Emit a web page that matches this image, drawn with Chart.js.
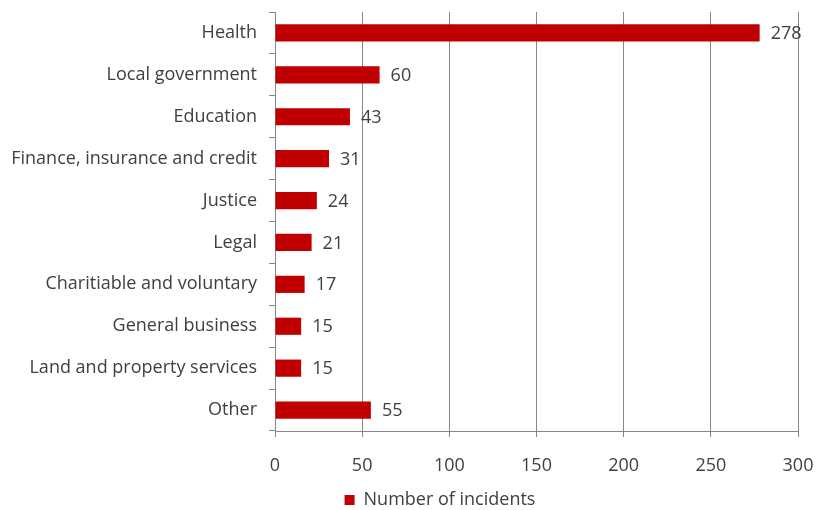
<!DOCTYPE html>
<html>
<head>
<meta charset="utf-8">
<script src="https://cdn.jsdelivr.net/npm/chart.js@4"></script>
<style>
  body { margin: 0; background: #fff; }
  #wrap { width: 816px; height: 510px; }
</style>
</head>
<body>
<div id="wrap"><canvas id="incidentChart"></canvas></div>
<script>
const sectors = [
    "Health",
    "Local government",
    "Education",
    "Finance, insurance and credit",
    "Justice",
    "Legal",
    "Charitiable and voluntary",
    "General business",
    "Land and property services",
    "Other"
];
const incidents = [278, 60, 43, 31, 24, 21, 17, 15, 15, 55];
const seriesName = "Number of incidents";

const FONT = "'Open Sans', 'Noto Sans', sans-serif";
const TEXT = "#404040";
const GRID = "#868686";

// draws the value next to the end of each bar
const barValues = {
    id: "barValues",
    afterDatasetsDraw(chart) {
        const ctx = chart.ctx;
        const meta = chart.getDatasetMeta(0);
        ctx.save();
        ctx.font = "18px " + FONT;
        ctx.fillStyle = TEXT;
        ctx.textAlign = "left";
        ctx.textBaseline = "middle";
        meta.data.forEach((bar, i) => {
            ctx.fillText(String(incidents[i]), bar.x + 11, bar.y + 1);
        });
        ctx.restore();
    }
};

// the legend in the original sits a bit right of centre
const legendShift = {
    id: "legendShift",
    afterLayout(chart) {
        chart.legend.left += 82;
    }
};

new Chart(document.getElementById("incidentChart"), {
    type: "bar",
    data: {
        labels: sectors,
        datasets: [{
            label: seriesName,
            data: incidents,
            backgroundColor: "#c00000",
            borderWidth: 0,
            barPercentage: 0.41,
            categoryPercentage: 1
        }]
    },
    options: {
        indexAxis: "y",
        responsive: true,
        maintainAspectRatio: false,
        animation: false,
        layout: { padding: { top: 12, right: 18, left: 0, bottom: -9 } },
        plugins: {
            legend: {
                position: "bottom",
                labels: {
                    boxWidth: 10,
                    boxHeight: 10,
                    padding: 10,
                    color: TEXT,
                    font: { family: FONT, size: 18 }
                }
            },
            tooltip: { enabled: false }
        },
        scales: {
            x: {
                min: 0,
                max: 300,
                ticks: {
                    stepSize: 50,
                    color: TEXT,
                    padding: 18,
                    font: { family: FONT, size: 18 }
                },
                grid: { color: GRID, tickLength: 6, tickColor: GRID },
                border: { color: GRID },
                afterFit(scale) {
                    scale.height = 50;
                    scale.paddingLeft = 0;
                    scale.paddingRight = 0;
                }
            },
            y: {
                ticks: {
                    color: TEXT,
                    padding: 12,
                    font: { family: FONT, size: 18 }
                },
                grid: { drawOnChartArea: false, tickLength: 6, tickColor: GRID },
                border: { color: GRID },
                afterFit(scale) {
                    scale.width = 275;
                    scale.paddingTop = 0;
                    scale.paddingBottom = 0;
                }
            }
        }
    },
    plugins: [barValues, legendShift]
});
</script>
</body>
</html>
